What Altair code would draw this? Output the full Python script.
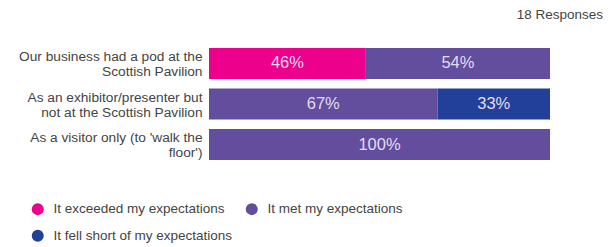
import altair as alt
import pandas as pd

categories = [
    "Our business had a pod at the|Scottish Pavilion",
    "As an exhibitor/presenter but|not at the Scottish Pavilion",
    "As a visitor only (to 'walk the|floor')",
]
responses = [
    "It exceeded my expectations",
    "It met my expectations",
    "It fell short of my expectations",
]
colors = ["#EC008C", "#634E9E", "#22409A"]
exceeded = [46, 0, 0]
met = [54, 67, 100]
fell_short = [0, 33, 0]
title_text = "18 Responses"

rows = []
for i, cat in enumerate(categories):
    start = 0
    for j, (resp, vals) in enumerate(zip(responses, [exceeded, met, fell_short])):
        v = vals[i]
        if v > 0:
            rows.append({"category": cat, "response": resp, "value": v,
                         "order": j, "start": start, "end": start + v,
                         "mid": start + v / 2, "label": f"{v}%"})
        start += v
df = pd.DataFrame(rows)

font = "Liberation Sans"

y_enc = alt.Y("category:N", sort=categories,
              scale=alt.Scale(paddingInner=0.235, paddingOuter=0),
              axis=alt.Axis(title=None, domain=False, ticks=False,
                            labelPadding=7, labelFontSize=13.7, labelColor="#444444",
                            labelFont=font, labelLimit=300, labelLineHeight=15,
                            labelOffset=-6.5,
                            labelExpr="split(datum.label, '|')"))

bars = alt.Chart(df).mark_bar().encode(
    x=alt.X("start:Q", scale=alt.Scale(domain=[0, 100], nice=False), axis=None),
    x2="end:Q",
    y=y_enc,
    color=alt.Color("response:N", scale=alt.Scale(domain=responses, range=colors),
                    legend=alt.Legend(title=None, orient="none", legendX=-178, legendY=154,
                                      direction="horizontal",
                                      columns=2, symbolType="circle", symbolSize=144,
                                      symbolStrokeWidth=0, labelFontSize=13.5,
                                      labelColor="#444444", labelFont=font,
                                      labelOffset=9, rowPadding=12, columnPadding=12,
                                      labelLimit=400)),
)

text = alt.Chart(df).mark_text(fontSize=16.5, color="#E2DCF0", font=font).encode(
    x=alt.X("mid:Q"),
    y=alt.Y("category:N", sort=categories),
    text="label:N",
)

chart = alt.layer(bars, text).properties(
    width=341, height=112,
    title=alt.TitleParams(title_text, anchor="end", dx=53, offset=27, fontSize=13.5,
                          fontWeight="normal", color="#444444", font=font),
    autosize=alt.AutoSizeParams(type="none"),
    padding={"left": 201, "top": 40, "right": 56, "bottom": 95},
).configure_view(stroke=None)

chart.save("out.html", embed_options={"renderer": "svg", "actions": False})
